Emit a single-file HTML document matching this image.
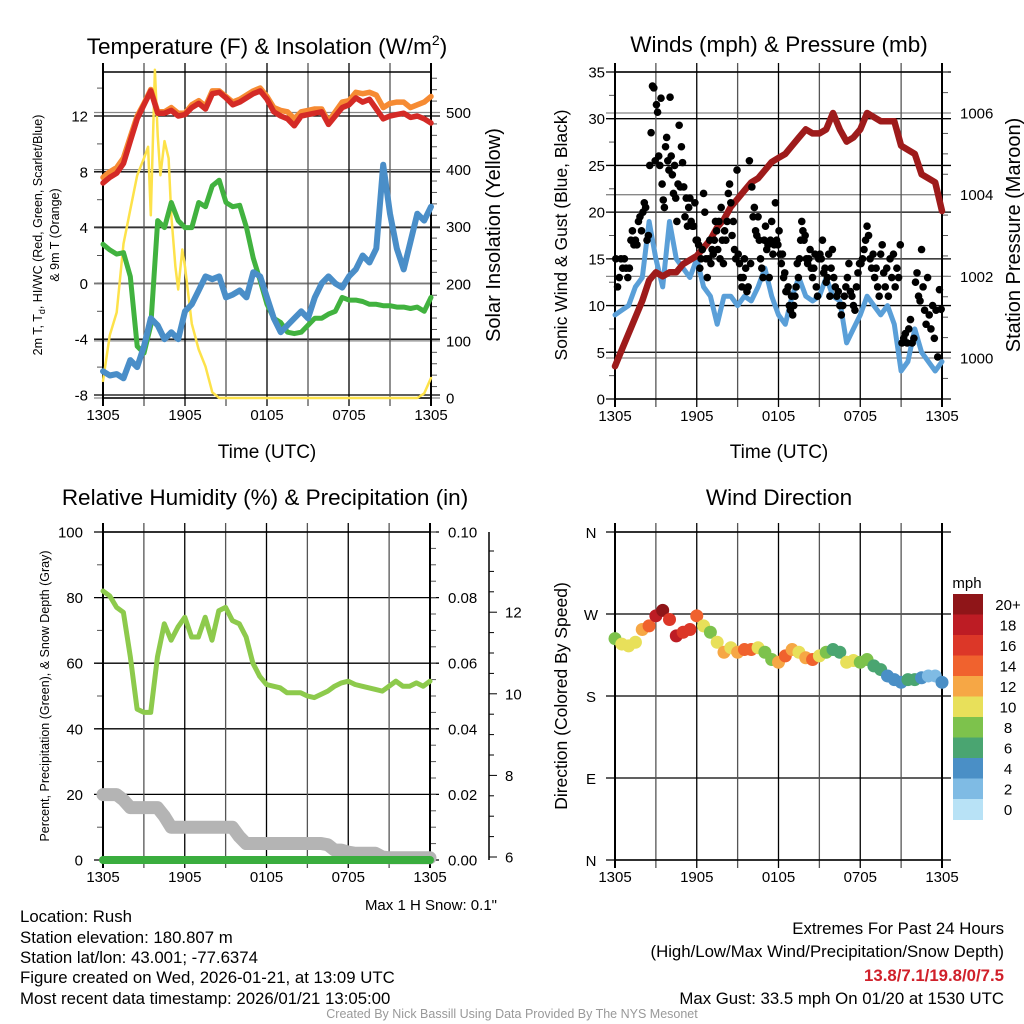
<!DOCTYPE html>
<html><head><meta charset="utf-8"><style>
html,body{margin:0;padding:0;background:#fff;}
svg{display:block;font-family:"Liberation Sans",sans-serif;}
.ft{font-family:"Liberation Sans",sans-serif;font-size:16.8px;fill:#000;}
</style></head><body>
<svg id="chart" width="1024" height="1024" viewBox="0 0 1024 1024">
<rect width="1024" height="1024" fill="#fff"/>
<g id="layer"></g>
<text x="267" y="54" font-size="22.5" text-anchor="middle">Temperature (F) &amp; Insolation (W/m<tspan font-size="14" dy="-9">2</tspan><tspan dy="9">)</tspan></text>
<text x="779" y="52" font-size="22.5" text-anchor="middle">Winds (mph) &amp; Pressure (mb)</text>
<text x="265" y="505" font-size="22.5" text-anchor="middle">Relative Humidity (%) &amp; Precipitation (in)</text>
<text x="779" y="505" font-size="22.5" text-anchor="middle">Wind Direction</text>
<text x="267" y="458" font-size="19" text-anchor="middle">Time (UTC)</text>
<text x="779" y="458" font-size="19" text-anchor="middle">Time (UTC)</text>
<text transform="translate(42,235) rotate(-90)" font-size="12.5" text-anchor="middle">2m T, T<tspan font-size="9" dy="3">d</tspan><tspan dy="-3">, HI/WC (Red, Green, Scarlet/Blue)</tspan></text>
<text transform="translate(59,235) rotate(-90)" font-size="12.5" text-anchor="middle">&amp; 9m T (Orange)</text>
<text transform="translate(500,235) rotate(-90)" font-size="20" text-anchor="middle">Solar Insolation (Yellow)</text>
<text transform="translate(567,235) rotate(-90)" font-size="17.5" text-anchor="middle">Sonic Wind &amp; Gust (Blue, Black)</text>
<text transform="translate(1020,235) rotate(-90)" font-size="20" text-anchor="middle">Station Pressure (Maroon)</text>
<text transform="translate(49,696) rotate(-90)" font-size="12.5" text-anchor="middle">Percent, Precipitation (Green), &amp; Snow Depth (Gray)</text>
<text transform="translate(567,696) rotate(-90)" font-size="17.5" text-anchor="middle">Direction (Colored By Speed)</text>
<text x="967" y="588" font-size="15" text-anchor="middle">mph</text>
<text x="497" y="910" text-anchor="end" class="ft" style="font-size:15px">Max 1 H Snow: 0.1"</text>
<g class="ft">
<text x="20" y="922">Location: Rush</text>
<text x="20" y="943">Station elevation: 180.807 m</text>
<text x="20" y="963">Station lat/lon: 43.001; -77.6374</text>
<text x="20" y="983">Figure created on Wed, 2026-01-21, at 13:09 UTC</text>
<text x="20" y="1004">Most recent data timestamp: 2026/01/21 13:05:00</text>
</g>
<g class="ft" text-anchor="end">
<text x="1004" y="934">Extremes For Past 24 Hours</text>
<text x="1004" y="957">(High/Low/Max Wind/Precipitation/Snow Depth)</text>
<text x="1004" y="981" style="fill:#d0202a;font-weight:bold">13.8/7.1/19.8/0/7.5</text>
<text x="1004" y="1004">Max Gust: 33.5 mph On 01/20 at 1530 UTC</text>
</g>
<text x="512" y="1018" text-anchor="middle" class="ft" style="fill:#999;font-size:12.5px">Created By Nick Bassill Using Data Provided By The NYS Mesonet</text>
</svg>
<script>
// ---- data (half-hourly from 1305 UTC, hours 0..24) ----
const timeLabels = ["1305","1905","0105","0705","1305"];
const temp2m = [7.2,7.6,7.9,8.6,10.2,11.8,12.8,13.8,12.2,12.2,12.4,12.0,12.1,12.6,12.9,12.5,13.6,13.7,13.3,12.8,13.0,13.3,13.6,13.8,13.2,12.3,12.0,11.8,11.3,12.0,12.1,12.2,12.3,11.4,12.0,12.6,12.8,13.3,13.0,13.2,12.5,11.8,12.0,12.1,12.2,11.9,12.0,11.8,11.5];
const temp9m = [7.6,8.0,8.3,9.0,10.5,12.0,12.9,13.9,12.3,12.3,12.6,12.2,12.2,12.8,13.1,12.7,13.8,13.8,13.4,13.0,13.2,13.5,13.8,14.0,13.4,12.6,12.4,12.3,11.8,12.3,12.4,12.5,12.5,11.6,12.3,13.0,13.1,13.7,13.6,13.7,13.5,12.6,12.9,13.0,13.0,12.6,12.8,13.0,13.4];
const dewpt = [2.8,2.4,2.1,2.2,0.5,-4.5,-5.0,-3.0,4.5,4.0,5.8,4.5,4.0,4.0,5.8,5.5,7.0,7.4,5.8,5.5,5.6,4.0,1.8,0.2,-1.5,-2.5,-2.8,-3.5,-3.6,-3.5,-3.0,-2.5,-2.5,-2.2,-2.0,-1.0,-1.2,-1.2,-1.3,-1.5,-1.5,-1.6,-1.6,-1.7,-1.7,-1.8,-1.7,-2.0,-1.0];
const windChill = [-6.3,-6.6,-6.5,-6.8,-5.5,-6.0,-4.5,-2.5,-3.0,-4.0,-3.5,-4.0,-2.0,-1.5,-0.5,0.5,0.3,0.5,-1.0,-0.8,-0.5,-1.0,0.8,0.5,-1.0,-2.5,-3.5,-3.0,-2.5,-2.0,-2.5,-1.0,0.0,0.5,0.0,-0.3,0.5,1.0,2.0,1.5,2.5,8.5,5.0,2.5,1.0,3.0,5.0,4.5,5.5];
const solarHours = [0,0.5,1,1.5,2,2.5,3,3.3,3.5,3.8,4.0,4.2,4.5,4.8,5,5.3,5.5,5.8,6,6.5,7,7.5,8,8.5,23,23.5,24];
const solarValues = [30,110,150,270,330,390,420,440,320,575,460,390,450,420,320,230,190,260,230,130,85,55,10,0,0,8,35];
const windSpeed = [9,9.5,10,12,13,19,15,12,19,15,14,13,15,12,11,8,11,11,10,11,10.5,12,14,11,9,8,11,13,11,10.5,11,13,11,10.5,6,7.5,9,11,10,9,10,8,3,4,7.5,5,4,3,4];
const pressure = [999.8,1000.2,1000.6,1001.0,1001.4,1001.9,1002.1,1002.0,1002.1,1002.1,1002.3,1002.4,1002.5,1002.7,1002.9,1003.2,1003.4,1003.7,1003.9,1004.1,1004.3,1004.4,1004.6,1004.8,1004.9,1005.0,1005.2,1005.4,1005.6,1005.5,1005.5,1005.6,1006.0,1005.6,1005.3,1005.4,1005.6,1006.0,1005.9,1005.8,1005.8,1005.8,1005.2,1005.1,1005.0,1004.5,1004.4,1004.3,1003.6];
const gustByHour = [
[15,12,13,15,14,15,14,13],[14,17,18,16.5,17,16.5,19,19.5,18],[20,21,20.5,17,17.5,25,28.5,33.5,33.3,25.5],
[31.5,30.7,26,25,32.2,23,21.3,20.5,27,28,25.5,24.5],[32.3,26,24,22,25,21.5,19,23,29.3,22.7,27,25.3],
[22.7,19.5,21.5,18.5,20.5,21.5,19,18.5,18.5,21,17],[17,16.5,14,15,16,22,20,15,13,15,17],
[14.5,16,15.5,17,19,18,16,19,15,20.5,17,14.5],[18,17,19,22,23,21,17.5,19,16,15,24.5],
[15.5,14.5,13,12,13,15,14,11.5,12,25.5,14.5],[22.7,19.5,20.5,18,17.5,19.5,17,15,14,13,17],
[18.5,16,16.5,13,17,19,15.5,16.5,21,17,16.5],[18,15.5,14.5,15.5,13,13.5,11.5,11.5,12,10,9.5,11],
[9,10,11,12,14.5,13,15,17,19,18,17,17.5],[15,14.5,15,16,14,13,14,15.5,12,11,15],
[15.5,15,17,13.5,14,12.5,13,15.5,11,14,16],[13,12,11,11.5,10,9,10,11,12],
[13,14.5,11.5,11,10,9.5,12,13.5,14.5],[14.5,15,16,17,18.5,17.5,15,14,15.5],
[13,14,12,11,15.5,16.5,13.5,12,14],[11,15,13,15.5,12,14,13,16.5],
[6,6.5,7,6,7.5,8.5,6,6.5],[12.5,13.5,11,10.5,16,12,9.5,8,13],[9,7.5,10,6.5,9.5,4.5,11.7,9.6]];
const relHum = [82,80.5,77,75.5,62,46,45,45,62,72,67,71,74,68,68,74,67,76,77,73,72,68,60,56,53.5,53,52.5,51,51,51,50,49.5,50.5,51.5,53,54,54.5,53.5,53,52.5,52,51.5,53,54.5,53,53,54,53,54.5];
const precip = [0,0,0,0,0,0,0,0,0,0,0,0,0,0,0,0,0,0,0,0,0,0,0,0,0,0,0,0,0,0,0,0,0,0,0,0,0,0,0,0,0,0,0,0,0,0,0,0,0];
const snowDepth = [7.53,7.53,7.53,7.4,7.21,7.21,7.21,7.21,7.21,7.0,6.73,6.73,6.73,6.73,6.73,6.73,6.73,6.73,6.73,6.73,6.5,6.33,6.33,6.33,6.33,6.33,6.33,6.33,6.33,6.33,6.33,6.33,6.33,6.3,6.17,6.17,6.12,6.09,6.09,6.09,6.09,6.0,5.98,5.98,5.98,5.98,5.98,5.98,5.98];
const windDir = [243,237,235,239,253,257,268,274,264,246,250,253,268,257,250,239,228,233,228,231,231,233,228,220,217,224,231,228,222,220,224,228,231,228,217,219,217,220,213,209,202,198,195,198,198,200,202,202,195];
const dirSpeed = [8,10,10,11,13,14,19,20,17,18,17,16,15,11,8,10,12,11,12,14,14,10,8,8,13,15,12,10,12,15,10,8,7,7,10,10,9,8,7,6,5,4,5,7,6,4,3,2,4];
const cbarLabels = ["20+","18","16","14","12","10","8","6","4","2","0"];
const dirLabels = ["N","W","S","E","N"];

const NS='http://www.w3.org/2000/svg';
const layer=document.getElementById('layer');
function mk(tag,parent){const e=document.createElementNS(NS,tag);(parent||layer).appendChild(e);return e;}
function attrs(e,o){for(const k in o)e.setAttribute(k,o[k]);return e;}

const panels={
 p1:{x0:103,x1:431,top:72,bot:398},
 p2:{x0:615,x1:942,top:72,bot:399},
 p3:{x0:103,x1:430,top:532,bot:860},
 p4:{x0:615,x1:942,top:532,bot:860}
};
function xOf(p,h){return p.x0+h*(p.x1-p.x0)/24;}
const y1=v=>395-(v+8)*13.95, y1r=w=>398-w*0.571;
const y2=v=>399-v*9.343, y2r=p=>358-(p-1000)*40.83;
const y3=v=>860-v*3.28, y3p=v=>860-v*3280, y3s=s=>857-(s-6)*40.8;
const y4=d=>860-d*0.9111;

function frame(p,key){
 for(let i=0;i<=8;i++){
  const x=xOf(p,i*3);
  const l=mk('line');attrs(l,{x1:x,x2:x,y1:p.top-9,y2:p.bot+8,stroke:(i%2==0)?'#000':'#555','stroke-width':(i==0||i==8)?2:1.3});
  
  
 }
 for(let i=0;i<timeLabels.length;i++){
  const t=mk('text');attrs(t,{x:xOf(p,i*6),y:p.bot+22,'font-size':15,'text-anchor':'middle'});t.textContent=timeLabels[i];
  
  
 }
 const b=mk('rect');attrs(b,{x:p.x0,y:p.top,width:p.x1-p.x0,height:p.bot-p.top,fill:'none',stroke:'#000','stroke-width':1.5});
 
 
}
function yAxis(p,key,vals,fy,fmt,side,minor,gridColor,lx){
 for(const v of minor){const y=fy(v);const l=mk('line');
  const x=side=='L'?p.x0:p.x1;attrs(l,{x1:x,x2:side=='L'?x-6:x+6,y1:y,y2:y,stroke:'#555','stroke-width':1});
  
  }
 for(const v of vals){const y=fy(v);
  if(gridColor){const g=mk('line');attrs(g,{x1:p.x0-9,x2:p.x1+9,y1:y,y2:y,stroke:gridColor,'stroke-width':1.3});
   
   }
  const t=mk('text');attrs(t,{x:lx,y:y+5.5,'font-size':15,'text-anchor':side=='L'?'end':'start'});t.textContent=fmt(v);
  
  }
}
function range(a,b,s){const r=[];for(let v=a;v<=b+1e-9;v+=s)r.push(+v.toFixed(4));return r;}
function line(p,vals,fy,times,color,w,name){
 const pts=vals.map((v,i)=>xOf(p,times?times[i]:i*0.5).toFixed(1)+','+fy(v).toFixed(1)).join(' ');
 const e=mk('polyline');attrs(e,{points:pts,fill:'none',stroke:color,'stroke-width':w,'stroke-linejoin':'round','stroke-linecap':'round'});
 
 
}

// Panel 1
const P1=panels.p1;
yAxis(P1,'temp',range(-8,12,4),y1,v=>String(v),'L',range(-8,14,2),'#000',88);
yAxis(P1,'insolation',range(0,500,100),y1r,v=>String(v),'R',range(0,560,20),'#888',446);
frame(P1,'temp');
line(P1,solarValues,y1r,solarHours,'#fde24a',2.5,'solar-insolation-line');
line(P1,dewpt,y1,null,'#41b23f',5,'dewpoint-line');
line(P1,windChill,y1,null,'#4a8ec8',6,'wind-chill-line');
line(P1,temp9m,y1,null,'#f68b33',5.5,'temp-9m-line');
line(P1,temp2m,y1,null,'#d42a26',5.5,'temp-2m-line');

// Panel 2
const P2=panels.p2;
yAxis(P2,'wind',range(0,35,5),y2,v=>String(v),'L',range(0,35,2.5),'#000',605);
yAxis(P2,'pressure',range(1000,1006,2),y2r,v=>String(v),'R',range(999.5,1007,0.5),'#888',960);
frame(P2,'wind');
line(P2,windSpeed,y2,null,'#5a9fd8',5,'sonic-wind-line');
line(P2,pressure,y2r,null,'#9e1b1b',6.5,'station-pressure-line');
gustByHour.forEach((grp,h)=>{grp.forEach((g,i)=>{
 const c=mk('circle');attrs(c,{cx:xOf(P2,h+(i+0.5)/grp.length),cy:y2(g),r:3.8,fill:'#000'});
 
 
});});

// Panel 3
const P3=panels.p3;
yAxis(P3,'humidity',range(0,100,20),y3,v=>String(v),'L',range(0,100,10),'#000',83);
yAxis(P3,'precip',range(0,0.1,0.02),y3p,v=>v.toFixed(2),'R',range(0,0.1,0.005),null,448);
frame(P3,'humidity');
const sa=mk('line');attrs(sa,{x1:489,x2:489,y1:532,y2:860,stroke:'#000','stroke-width':1.5});


for(const s of range(6,13.5,0.5)){const y=y3s(s);if(y<532)continue;const l=mk('line');const maj=s%2==0;
 attrs(l,{x1:489,x2:maj?497:494,y1:y,y2:y,stroke:'#000','stroke-width':1});
 
 
 if(maj){const t=mk('text');attrs(t,{x:505,y:y+5.5,'font-size':15});t.textContent=String(s);
  
  }}
line(P3,snowDepth,y3s,null,'#b4b4b4',13,'snow-depth-line');
line(P3,precip,y3p,null,'#3aad3e',8,'precipitation-line');
line(P3,relHum,y3,null,'#8dca4c',5,'relative-humidity-line');

// Panel 4
const P4=panels.p4;
dirLabels.forEach((lab,i)=>{const y=y4(360-i*90);
 const g=mk('line');attrs(g,{x1:P4.x0-9,x2:P4.x1+9,y1:y,y2:y,stroke:'#000','stroke-width':1.3});
 
 
 const t=mk('text');attrs(t,{x:591,y:y+6,'font-size':15,'text-anchor':'middle'});t.textContent=lab;
 
 });
frame(P4,'direction');
const cbarColors=['#8f1518','#bd1c24','#dc3728','#f0622e','#f6a745','#e8e05a','#7dc24c','#4aa571','#4a8fc6','#7fbbe4','#b8e2f6'];
function speedColor(s){const bin=Math.min(10,Math.floor(s/2));return cbarColors[10-bin];}
windDir.forEach((d,i)=>{const c=mk('circle');attrs(c,{cx:xOf(P4,i*0.5),cy:y4(d),r:6.5,fill:speedColor(dirSpeed[i])});
 
 });
cbarLabels.forEach((lab,i)=>{const y=594+i*20.5;
 const r=mk('rect');attrs(r,{x:953,y:y,width:30,height:21,fill:cbarColors[i]});
 
 
 const t=mk('text');attrs(t,{x:1008,y:y+16,'font-size':15,'text-anchor':'middle'});t.textContent=lab;
 
 });
</script>
</body></html>
